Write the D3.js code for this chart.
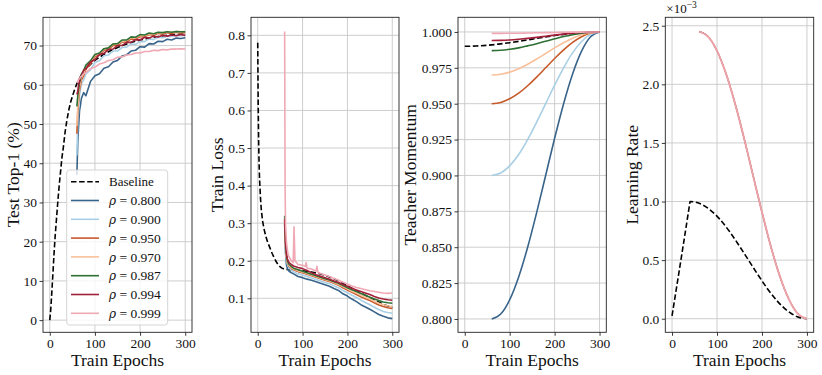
<!DOCTYPE html>
<html><head><meta charset="utf-8">
<script src="https://cdn.jsdelivr.net/npm/d3@7"></script>
<style>body{margin:0;background:#fff}svg{display:block}text{font-family:"Liberation Serif","Times New Roman",serif;fill:#111}</style>
</head><body><svg id="c" width="822" height="375"></svg>
<script>
// ---------- DATA ----------
const seriesNames = ["0.800","0.900","0.950","0.970","0.987","0.994","0.999"];
const seriesColors = ["#38648a","#a9cfe5","#c75a2a","#f9c09a","#2e7034","#a3203a","#f0a8b4"];
const xTicks = [0,100,200,300];

// Panel 1: Test Top-1 (%)
const rhoEpochs = [60,62,64,66,68,70,75,80,90,100,110,120,130,140,150,160,170,180,190,200,210,220,230,240,250,260,270,280,290,300];
const acc800 = [37.0,45.5,49.8,53.5,54.8,56.5,58.0,57.2,60.8,62.3,62.8,64.2,64.6,65.8,66.2,67.3,67.6,68.6,68.8,69.7,69.6,70.5,70.4,71.1,71.0,71.6,71.4,71.9,71.8,72.0];
const acc900 = [42.0,50.5,54.0,57.3,58.8,60.3,61.2,62.8,63.8,65.7,66.1,67.4,67.6,68.6,68.6,69.5,69.6,70.4,70.3,71.0,71.0,71.7,71.5,72.1,72.0,72.4,72.3,72.6,72.5,72.6];
const acc950 = [47.5,53.2,56.3,58.8,59.8,61.2,62.3,64.0,65.3,67.2,67.6,68.8,69.0,70.0,70.0,70.9,70.9,71.7,71.6,72.3,72.2,72.8,72.6,73.1,72.9,73.3,73.1,73.4,73.2,73.3];
const acc970 = [49.5,54.5,57.5,59.5,60.6,61.8,63.0,64.5,65.9,67.5,68.0,69.1,69.4,70.3,70.4,71.1,71.3,72.0,71.9,72.6,72.5,73.0,72.9,73.3,73.2,73.5,73.4,73.6,73.5,73.6];
const acc987 = [54.5,57.2,58.8,60.7,61.3,62.7,63.6,65.0,66.1,67.7,68.1,69.2,69.4,70.4,70.5,71.4,71.4,72.2,72.1,72.8,72.7,73.2,73.0,73.4,73.3,73.5,73.4,73.6,73.5,73.5];
const acc994 = [57.5,58.3,60.2,60.8,62.0,62.3,63.7,64.1,65.8,66.4,67.7,68.0,69.0,69.1,70.0,70.0,70.8,70.8,71.5,71.4,72.1,71.9,72.4,72.2,72.6,72.4,72.7,72.5,72.8,72.6];
const acc999 = [60.5,60.9,61.4,61.5,62.0,62.1,62.8,63.1,64.1,64.5,65.3,65.6,66.2,66.4,67.0,67.1,67.6,67.7,68.1,68.1,68.5,68.5,68.8,68.7,69.0,68.9,69.1,69.1,69.2,69.1];
const accBaseEpochs = [0,2,4,6,8,10,12,15,18,21,24,27,30,34,38,42,46,50,55,60,70,80,90,100,120,140,160,180,200,220,240,260,280,300];
const accBase = [0,2.5,6,10,14,18,21.5,26,30.5,34.5,38,41.5,44,48,51,53.5,55.5,57,58.8,60.3,62.5,64.0,65.2,66.2,67.8,69.0,70.0,70.8,71.4,71.9,72.3,72.6,72.8,73.0];
const accTicks = [0,10,20,30,40,50,60,70];

// Panel 2: Train Loss
const loss800 = [0.30,0.22,0.19,0.18,0.176,0.172,0.168,0.165,0.158,0.155,0.151,0.148,0.144,0.140,0.136,0.132,0.126,0.121,0.112,0.106,0.098,0.091,0.083,0.077,0.071,0.064,0.057,0.052,0.048,0.046];
const loss900 = [0.30,0.23,0.20,0.19,0.185,0.18,0.175,0.17,0.165,0.162,0.158,0.154,0.15,0.146,0.142,0.139,0.133,0.128,0.121,0.115,0.108,0.102,0.095,0.089,0.083,0.076,0.07,0.065,0.062,0.06];
const loss950 = [0.31,0.24,0.21,0.195,0.19,0.185,0.18,0.176,0.171,0.168,0.164,0.16,0.156,0.152,0.148,0.145,0.14,0.135,0.128,0.122,0.116,0.11,0.104,0.099,0.094,0.088,0.082,0.078,0.075,0.073];
const loss970 = [0.30,0.24,0.21,0.197,0.192,0.187,0.182,0.178,0.173,0.17,0.166,0.162,0.158,0.154,0.15,0.147,0.142,0.137,0.131,0.125,0.119,0.114,0.108,0.103,0.098,0.092,0.087,0.083,0.08,0.078];
const loss987 = [0.32,0.25,0.22,0.2,0.195,0.19,0.185,0.18,0.176,0.172,0.168,0.164,0.16,0.156,0.152,0.149,0.144,0.14,0.134,0.128,0.123,0.118,0.113,0.108,0.103,0.098,0.094,0.09,0.088,0.087];
const loss994 = [0.31,0.25,0.22,0.205,0.2,0.195,0.19,0.186,0.182,0.179,0.174,0.168,0.163,0.159,0.155,0.151,0.146,0.142,0.137,0.132,0.127,0.122,0.118,0.114,0.11,0.105,0.101,0.098,0.096,0.095];
const loss999Epochs = [60,61,62,64,66,68,70,75,79,81,83,90,100,106,108,110,120,130,132,134,140,150,160,170,180,190,200,210,220,230,240,250,260,270,280,290,300];
const loss999 = [0.81,0.40,0.30,0.25,0.23,0.215,0.21,0.2,0.195,0.29,0.2,0.19,0.188,0.185,0.195,0.18,0.178,0.172,0.185,0.17,0.166,0.162,0.158,0.153,0.148,0.143,0.138,0.133,0.129,0.126,0.123,0.12,0.118,0.116,0.114,0.113,0.114];
const lossBaseEpochs = [0,1,2,3,4,6,8,11,14,18,22,27,32,37,42,47,53,60,80,100,120,140,160,180,200,220,240,260,280,300];
const lossBase = [0.78,0.62,0.52,0.46,0.42,0.37,0.335,0.305,0.285,0.265,0.25,0.235,0.22,0.207,0.196,0.187,0.181,0.177,0.175,0.173,0.17,0.165,0.157,0.147,0.133,0.12,0.108,0.096,0.084,0.075];
const lossTicks = [0.1,0.2,0.3,0.4,0.5,0.6,0.7,0.8];

// Panel 3: Teacher Momentum
const momEpochs = [60,80,100,120,140,160,180,200,220,240,260,280,300];
const mom800 = [0.800,0.8034,0.8134,0.8293,0.850,0.8741,0.900,0.9259,0.950,0.9707,0.9866,0.9966,1.000];
const mom900 = [0.900,0.9017,0.9067,0.9146,0.925,0.9371,0.950,0.9629,0.975,0.9854,0.9933,0.9983,1.000];
const mom950 = [0.950,0.9509,0.9534,0.9573,0.9625,0.9685,0.975,0.9815,0.9875,0.9927,0.9967,0.9992,1.000];
const mom970 = [0.970,0.9705,0.9720,0.9744,0.9775,0.9811,0.985,0.9889,0.9925,0.9956,0.9980,0.9995,1.000];
const mom987 = [0.987,0.9872,0.9879,0.9889,0.9903,0.9918,0.9935,0.9952,0.9968,0.9981,0.9991,0.9998,1.000];
const mom994 = [0.994,0.9941,0.9944,0.9949,0.9955,0.9962,0.997,0.9978,0.9985,0.9991,0.9996,0.9999,1.000];
const mom999 = [0.999,0.999,0.9991,0.9991,0.99925,0.9994,0.9995,0.9996,0.99975,0.9999,0.9999,1.000,1.000];
const momBaseEpochs = [0,25,50,75,100,125,150,175,200,225,250,275,300];
const momBase = [0.990,0.9902,0.9907,0.9915,0.9925,0.9937,0.995,0.9963,0.9975,0.9985,0.9993,0.9998,1.000];
const momTicks = [0.800,0.825,0.850,0.875,0.900,0.925,0.950,0.975,1.000];

// Panel 4: Learning Rate (x1e-3)
const lrRhoEpochs = [60,80,100,120,140,160,180,200,220,240,260,280,300];
const lrRho = [2.45,2.4083,2.2859,2.0913,1.8375,1.542,1.225,0.908,0.6125,0.3587,0.1642,0.0417,0];
const lrBaseEpochs = [0,39,40,61.7,83.3,105,126.7,148.3,170,191.7,213.3,235,256.7,278.3,300];
const lrBase = [0.025,0.975,1.0,0.983,0.933,0.854,0.75,0.629,0.5,0.371,0.25,0.146,0.067,0.017,0];
const lrTicks = [0.0,0.5,1.0,1.5,2.0,2.5];

// ---------- DRAW ----------
const svg = d3.select("#c");
const zip = (xs, ys) => xs.map((v,i)=>[v, ys[i]]);
const TOP = 17.3, BOT = 332.3;

const panels = [
  {left:43, right:192, yDomain:[-3.1,77.2], ticks:accTicks, fmt:d3.format("d"), label:"Test Top-1 (%)", lx:12.7,
   base: zip(accBaseEpochs, accBase), curve:d3.curveLinear, topW:1.6, lowW:1.6,
   series:[acc800,acc900,acc950,acc970,acc987,acc994,acc999].map(v=>zip(rhoEpochs,v))},
  {left:251, right:399, yDomain:[0.0095,0.848], ticks:lossTicks, fmt:d3.format(".1f"), label:"Train Loss", lx:216.7,
   base: zip(lossBaseEpochs, lossBase), curve:d3.curveLinear, topW:1.6, lowW:1.6,
   series:[loss800,loss900,loss950,loss970,loss987,loss994].map(v=>zip(rhoEpochs,v)).concat([zip(loss999Epochs,loss999)])},
  {left:458, right:606.3, yDomain:[0.7907,1.0102], ticks:momTicks, fmt:d3.format(".3f"), label:"Teacher Momentum", lx:410,
   base: zip(momBaseEpochs, momBase), curve:d3.curveMonotoneX, topW:1.6, lowW:1.6,
   series:[mom800,mom900,mom950,mom970,mom987,mom994,mom999].map(v=>zip(momEpochs,v))},
  {left:665.3, right:813.7, yDomain:[-0.116,2.572], ticks:lrTicks, fmt:d3.format(".1f"), label:"Learning Rate", lx:631.7,
   base: zip(lrBaseEpochs, lrBase), curve:d3.curveMonotoneX, topW:2.0, lowW:1.0,
   series:seriesNames.map(()=>zip(lrRhoEpochs, lrRho))}
];

panels.forEach((p, pi) => {
  const x = d3.scaleLinear().domain([-15,315]).range([p.left, p.right]);
  const y = d3.scaleLinear().domain(p.yDomain).range([BOT, TOP]);
  const g = svg.append("g");
  const clipId = "clip"+pi;
  svg.append("clipPath").attr("id",clipId).append("rect")
    .attr("x",p.left).attr("y",TOP).attr("width",p.right-p.left).attr("height",BOT-TOP);
  // grid
  g.selectAll(".gx").data(xTicks).join("line")
    .attr("x1",d=>x(d)).attr("x2",d=>x(d)).attr("y1",TOP).attr("y2",BOT)
    .attr("stroke","#c8c8c8").attr("stroke-width",0.9);
  g.selectAll(".gy").data(p.ticks).join("line")
    .attr("y1",d=>y(d)).attr("y2",d=>y(d)).attr("x1",p.left).attr("x2",p.right)
    .attr("stroke","#c8c8c8").attr("stroke-width",0.9);
  // lines
  const line = d3.line().x(d=>x(d[0])).y(d=>y(d[1])).curve(p.curve);
  const lg = g.append("g").attr("clip-path",`url(#${clipId})`);
  lg.append("path").attr("d",line(p.base)).attr("fill","none")
    .attr("stroke","#000").attr("stroke-width",1.6).attr("stroke-dasharray","5.5,2.6");
  p.series.forEach((s,i)=>{
    const last = i === p.series.length-1;
    lg.append("path").attr("d",line(s)).attr("fill","none")
      .attr("stroke", pi===3 && last ? "#eba3a9" : seriesColors[i])
      .attr("stroke-width", last ? p.topW : p.lowW).attr("stroke-linejoin","round");
  });
  // axes
  const ax = g.append("g").attr("transform",`translate(0,${BOT})`)
    .call(d3.axisBottom(x).tickValues(xTicks).tickSize(3.5).tickPadding(2.5).tickFormat(d3.format("d")));
  const ay = g.append("g").attr("transform",`translate(${p.left},0)`)
    .call(d3.axisLeft(y).tickValues(p.ticks).tickSize(3.5).tickPadding(2.5).tickFormat(p.fmt));
  [ax,ay].forEach(a=>{
    a.attr("font-family","Liberation Serif");
    a.select(".domain").remove();
    a.selectAll(".tick line").attr("stroke","#222").attr("stroke-width",0.9);
    a.selectAll(".tick text").attr("font-size","13.5px").attr("font-family","Liberation Serif").attr("fill","#111");
  });
  // frame
  g.append("rect").attr("x",p.left).attr("y",TOP).attr("width",p.right-p.left).attr("height",BOT-TOP)
    .attr("fill","none").attr("stroke","#222").attr("stroke-width",0.9);
  // labels
  g.append("text").attr("x",(p.left+p.right)/2).attr("y",366).attr("text-anchor","middle")
    .attr("font-size","17.5px").text("Train Epochs");
  g.append("text").attr("transform",`translate(${p.lx},${(TOP+BOT)/2}) rotate(-90)`)
    .attr("text-anchor","middle").attr("dy","0.35em").attr("font-size","17.5px").text(p.label);
  if (pi===3) {
    const t = g.append("text").attr("x",p.left+1).attr("y",13).attr("font-size","13px");
    t.append("tspan").text("\u00d710");
    t.append("tspan").attr("dy",-5).attr("font-size","9.5px").text("\u22123");
  }
});

// legend in panel 1
const lgd = svg.append("g");
lgd.append("rect").attr("x",66.7).attr("y",170).attr("width",101).attr("height",155).attr("rx",3)
  .attr("fill","#fff").attr("fill-opacity",0.8).attr("stroke","#d0d0d0").attr("stroke-width",0.9);
const rowY = i => 181.7 + i*18.8;
lgd.append("line").attr("x1",71).attr("x2",99).attr("y1",rowY(0)).attr("y2",rowY(0))
  .attr("stroke","#000").attr("stroke-width",1.6).attr("stroke-dasharray","5.5,2.6");
lgd.append("text").attr("x",109).attr("y",rowY(0)).attr("dy","0.35em").attr("font-size","13px").text("Baseline");
seriesNames.forEach((n,i)=>{
  const yy = rowY(i+1);
  lgd.append("line").attr("x1",71).attr("x2",99).attr("y1",yy).attr("y2",yy)
    .attr("stroke",seriesColors[i]).attr("stroke-width",1.6);
  const t = lgd.append("text").attr("x",109).attr("y",yy).attr("dy","0.35em").attr("font-size","13.5px");
  t.append("tspan").attr("font-style","italic").attr("font-family","DejaVu Serif").attr("font-size","12px").text("\u03c1");
  t.append("tspan").text(" = "+n);
});
</script></body></html>
